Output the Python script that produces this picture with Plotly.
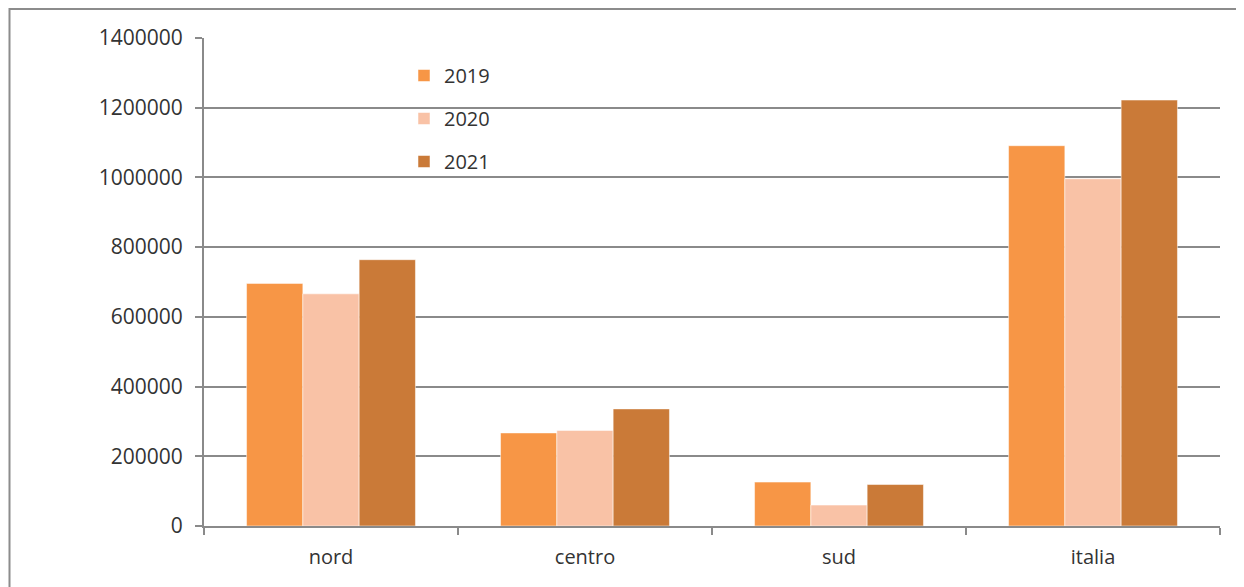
import plotly.graph_objects as go

# categories and yearly series
areas = ["nord", "centro", "sud", "italia"]
years = ["2019", "2020", "2021"]
v2019 = [696000, 267000, 126000, 1091000]
v2020 = [666000, 274000, 60000, 996000]
v2021 = [764000, 336000, 119000, 1222000]
y_ticks = [0, 200000, 400000, 600000, 800000, 1000000, 1200000, 1400000]

colors = {"2019": "#F79646", "2020": "#F9C2A6", "2021": "#CA7A38"}
series = {"2019": v2019, "2020": v2020, "2021": v2021}

# page body has an 8px margin, so the figure starts at (8, 8)
W, H = 1236, 579
L, R, T, B = 196, 24, 30, 61
FONT = "Open Sans"
GRID = "#8A8A8A"

fig = go.Figure()
for yr in years:
    fig.add_trace(go.Bar(
        x=areas,
        y=series[yr],
        name=yr,
        legendgroup=yr,
        marker=dict(color=colors[yr], line=dict(color="rgba(255,255,255,0.5)", width=1)),
    ))

pw, ph = W - L - R, H - T - B
# outer chart frame
fig.add_shape(
    type="rect", xref="paper", yref="paper",
    x0=(1.5 - L) / pw, x1=(W + 10 - L) / pw,
    y0=-(B + 10) / ph, y1=1 + (T - 1) / ph,
    line=dict(color="#8C8C8C", width=2), fillcolor="rgba(0,0,0,0)",
    layer="below",
)

fig.update_layout(
    width=W, height=H,
    margin=dict(l=L, r=R, t=T, b=B),
    paper_bgcolor="white", plot_bgcolor="white",
    font=dict(family=FONT, size=20, color="#333333"),
    barmode="group", bargap=0.335, bargroupgap=0,
    showlegend=True,
    legend=dict(
        x=(396 - L) / pw, y=(H - B - 48) / ph, xanchor="left", yanchor="top",
        font=dict(size=20, color="#333333"),
        tracegroupgap=14, bgcolor="rgba(0,0,0,0)",
    ),
)
fig.update_xaxes(
    showgrid=False, showline=True, linecolor=GRID, linewidth=2,
    ticks="outside", tickson="boundaries", ticklen=7, tickcolor=GRID, tickwidth=2,
    ticklabelstandoff=12,
)
fig.update_yaxes(
    range=[0, 1400000], tickvals=y_ticks, ticktext=[str(v) for v in y_ticks],
    tickfont=dict(size=21),
    showgrid=True, gridcolor=GRID, gridwidth=2,
    showline=True, linecolor=GRID, linewidth=2,
    ticks="outside", ticklen=7, tickcolor=GRID, tickwidth=2,
    ticklabelstandoff=8, zeroline=False,
)

fig.write_html("out.html")
